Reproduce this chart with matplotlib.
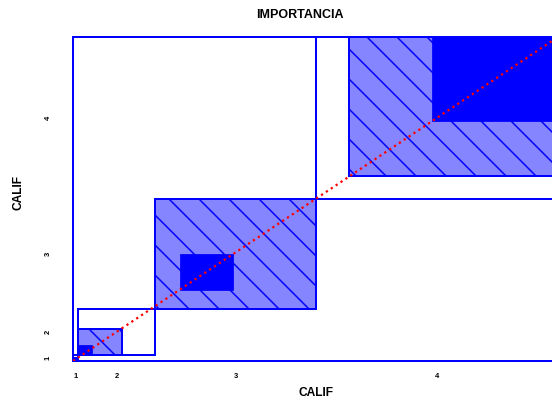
import matplotlib
matplotlib.use("Agg")
import matplotlib.pyplot as plt
from matplotlib.patches import Rectangle
import numpy as np

# ---- data (rows = vertical CALIF, columns = horizontal CALIF) ----
categories = ["1", "2", "3", "4"]
row1 = [1, 0, 0, 1]
row2 = [0, 3, 5, 6]
row3 = [0, 6, 11, 17]
row4 = [0, 7, 17, 26]
title = "IMPORTANCIA"
xlabel = "CALIF"
ylabel = "CALIF"

table = np.array([row1, row2, row3, row4], dtype=float)
K = len(categories)
N = table.sum()
row_tot = table.sum(axis=1)
col_tot = table.sum(axis=0)
cx = np.concatenate([[0], np.cumsum(col_tot)])
cy = np.concatenate([[0], np.cumsum(row_tot)])

DPI = 180
W, H = 552, 399
plt.rcParams["font.family"] = ["Liberation Sans", "DejaVu Sans"]
plt.rcParams["hatch.linewidth"] = 0.6
plt.rcParams["hatch.color"] = "#0000ff"

fig = plt.figure(figsize=(W / DPI, H / DPI), dpi=DPI)
left, right, top, bottom = 73, 558, 37, 361
ax = fig.add_axes([left / W, 1 - bottom / H, (right - left) / W, (bottom - top) / H])
ax.set_xlim(0, N)
ax.set_ylim(0, N)

blue = "#0000ff"
light = "#8585ff"
lw = 0.8

for k in range(K):
    # partial agreement (hatched)
    lo = max(0, k - 1)
    hi = min(K - 1, k + 1)
    px0 = cx[k] + table[:lo, k].sum()
    pw = table[lo:hi + 1, k].sum()
    py0 = cy[k] + table[k, :lo].sum()
    ph = table[k, lo:hi + 1].sum()
    ax.add_patch(Rectangle((px0, py0), pw, ph, facecolor=light, edgecolor=blue,
                           hatch="\\\\", linewidth=lw, zorder=2))
    # exact agreement (solid)
    dx0 = cx[k] + table[:k, k].sum()
    dy0 = cy[k] + table[k, :k].sum()
    d = table[k, k]
    ax.add_patch(Rectangle((dx0, dy0), d, d, facecolor=blue, edgecolor=blue,
                           linewidth=0.3, zorder=3))
    # marginal box
    ax.add_patch(Rectangle((cx[k], cy[k]), col_tot[k], row_tot[k], facecolor="none",
                           edgecolor=blue, linewidth=lw, zorder=4))

ax.plot([0, N], [0, N], color="#ff0000", linestyle=(0, (1, 1.6)), linewidth=0.9, zorder=5)

for s in ax.spines.values():
    s.set_color(blue)
    s.set_linewidth(lw)

xm = (cx[:-1] + cx[1:]) / 2
ym = (cy[:-1] + cy[1:]) / 2
ax.set_xticks(xm, categories)
ax.set_yticks(ym, categories)
ax.tick_params(axis="x", length=0, pad=4.8, labelsize=3.0)
ax.tick_params(axis="y", length=0, pad=8.5, labelsize=3.0)
for t in ax.get_xticklabels() + ax.get_yticklabels():
    t.set_fontweight("bold")
for t in ax.get_yticklabels():
    t.set_rotation(90)
    t.set_va("center")

fig.text(300 / W, 1 - 15 / H, title, ha="center", va="center", fontsize=5.0, fontweight="bold")
fig.text(316 / W, 1 - 393 / H, xlabel, ha="center", va="center", fontsize=4.8, fontweight="bold")
fig.text(18 / W, 1 - 193 / H, ylabel, ha="center", va="center", fontsize=4.8,
         fontweight="bold", rotation=90)

fig.savefig("out.png", dpi=DPI)
